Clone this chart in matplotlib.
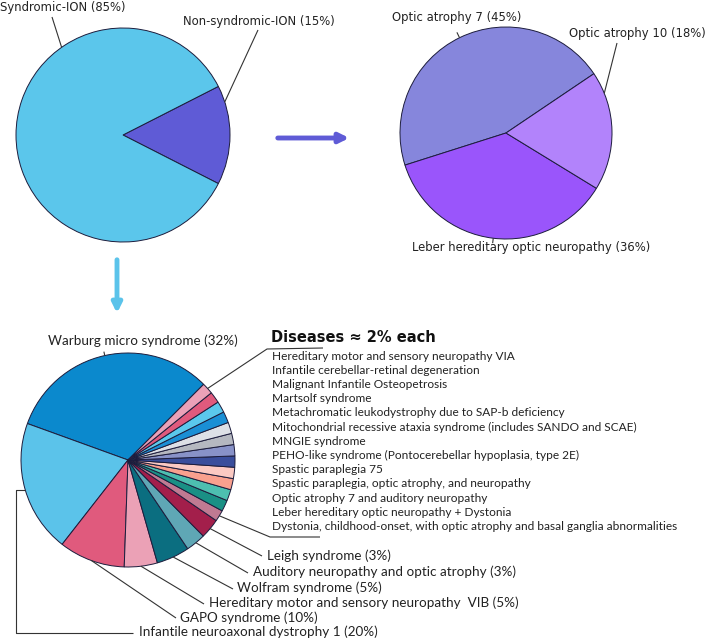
import numpy as np
import matplotlib.pyplot as plt

W, H = 708, 639

# first level: syndromic vs non-syndromic
top_labels = ["Non-syndromic-ION (15%)", "Syndromic-ION (85%)"]
top_values = [15, 85]
top_colors = ["#5F5BD6", "#5BC6EB"]

# non-syndromic breakdown
ns_labels = ["Optic atrophy 7 (45%)", "Leber hereditary optic neuropathy (36%)", "Optic atrophy 10 (18%)"]
ns_values = [45, 36, 18]
ns_colors = ["#8686DC", "#9A55FB", "#B283FB"]

# syndromic breakdown, named slices
big_labels = ["Warburg micro syndrome (32%)",
              "Infantile neuroaxonal dystrophy 1 (20%)",
              "GAPO syndrome (10%)",
              "Hereditary motor and sensory neuropathy  VIB (5%)",
              "Wolfram syndrome (5%)",
              "Auditory neuropathy and optic atrophy (3%)",
              "Leigh syndrome (3%)"]
big_values = [32, 20, 10, 5, 5, 3, 3]
big_colors = ["#0B89CD", "#5BC3EA", "#E05A7D", "#EBA1B6", "#0B6E80", "#5FA7B5", "#A31F4B"]

# syndromic breakdown, ~2% each
small_labels = ["Hereditary motor and sensory neuropathy VIA",
                "Infantile cerebellar-retinal degeneration",
                "Malignant Infantile Osteopetrosis",
                "Martsolf syndrome",
                "Metachromatic leukodystrophy due to SAP-b deficiency",
                "Mitochondrial recessive ataxia syndrome (includes SANDO and SCAE)",
                "MNGIE syndrome",
                "PEHO-like syndrome (Pontocerebellar hypoplasia, type 2E)",
                "Spastic paraplegia 75",
                "Spastic paraplegia, optic atrophy, and neuropathy",
                "Optic atrophy 7 and auditory neuropathy",
                "Leber hereditary optic neuropathy + Dystonia",
                "Dystonia, childhood-onset, with optic atrophy and basal ganglia abnormalities"]
small_values = [1.7] * 13
small_colors = ["#EBA1B8", "#E05A7D", "#5BC8EC", "#1A8FD5", "#DDE0E6", "#B5B8C0", "#8892C8",
                "#3A4E9C", "#FBC9C2", "#F9A08E", "#4DBFB0", "#1A9085", "#C07A92"]

edge = dict(edgecolor="#1c1c3c", linewidth=0.7)
lc = "#333333"
tc = "#222222"

fig = plt.figure(figsize=(7.08, 6.39), dpi=100)
ax = fig.add_axes([0, 0, 1, 1])


def P(x, y):
    return x, H - y


def edge_pt(c, r, ang, extra=0):
    a = np.radians(ang)
    return c[0] + (r + extra) * np.cos(a), c[1] + (r + extra) * np.sin(a)


def mid(w):
    return (w.theta1 + w.theta2) / 2


def leader(pts):
    xs, ys = zip(*pts)
    ax.plot(xs, ys, color=lc, lw=0.8, solid_capstyle="butt")


tf = dict(fontsize=8.4, va="center", ha="left", color=tc)

# --- top left pie
c1, r1 = P(123, 135), 107
w1, _ = ax.pie(top_values, colors=top_colors, startangle=-27, center=c1, radius=r1,
               wedgeprops=edge, frame=True)
ax.text(*P(0, 8), top_labels[1], **tf)
leader([edge_pt(c1, r1, 125), P(52, 17)])
ax.text(*P(183, 22), top_labels[0], **tf)
leader([edge_pt(c1, r1, 18), P(258, 30)])

# --- top right pie
c2, r2 = P(506, 133), 106
w2, _ = ax.pie(ns_values, colors=ns_colors, startangle=34, center=c2, radius=r2,
               wedgeprops=edge, frame=True)
ax.text(*P(392, 18), ns_labels[0], **tf)
leader([edge_pt(c2, r2, 116), edge_pt(c2, r2, 116, 6)])
ax.text(*P(569, 33), ns_labels[2], **tf)
leader([edge_pt(c2, r2, 22), P(617, 43)])
ax.text(*P(412, 248), ns_labels[1], **tf)
leader([edge_pt(c2, r2, mid(w2[1])), edge_pt(c2, r2, mid(w2[1]), 5)])

# --- bottom pie
c3, r3 = P(128, 460), 107
vals = big_values + small_values[::-1]
cols = big_colors + small_colors[::-1]
w3, _ = ax.pie(vals, colors=cols, startangle=45, center=c3, radius=r3,
               wedgeprops=edge, frame=True)

bf = dict(fontsize=9.7, family="Lato", va="center", ha="left", color=tc)
ax.text(*P(48, 341), big_labels[0], **bf)
leader([edge_pt(c3, r3, mid(w3[0])), edge_pt(c3, r3, mid(w3[0]), 4)])

p = edge_pt(c3, r3, mid(w3[1]))
leader([p, (16, p[1]), P(16, 633), P(133, 633)])
ax.text(*P(139, 632), big_labels[1], **bf)

ends = [(176, 618), (204, 604), (233, 589), (248, 573), (262, 556)]
txt = [(180, 618), (209, 603), (237, 588), (253, 572), (267, 556)]
for i in range(2, 7):
    leader([edge_pt(c3, r3, mid(w3[i])), P(*ends[i - 2])])
    ax.text(*P(*txt[i - 2]), big_labels[i], **bf)

# list of ~2% diseases
ax.text(*P(271, 337), "Diseases \u2248 2% each", fontsize=10.5, fontweight="bold",
        va="center", ha="left", color="#111111")
for i, lab in enumerate(small_labels):
    ax.text(*P(272, 356 + i * 14.2), lab, fontsize=8.6, family="Lato", va="center", ha="left", color=tc)
leader([edge_pt(c3, r3, mid(w3[-1])), P(267, 349), P(323, 348)])
leader([edge_pt(c3, r3, mid(w3[7])), P(270, 537), P(320, 537)])

# arrows
ax.annotate("", xy=P(352, 138), xytext=P(275, 138),
            arrowprops=dict(arrowstyle="-|>", color="#5F5BD6", lw=3.5, mutation_scale=14))
ax.annotate("", xy=P(117, 316), xytext=P(117, 257),
            arrowprops=dict(arrowstyle="-|>", color="#5BC3EA", lw=3.5, mutation_scale=14))

ax.set_xlim(0, W)
ax.set_ylim(0, H)
ax.set_aspect("equal")
ax.axis("off")
fig.savefig("out.png", dpi=100, facecolor="white")
